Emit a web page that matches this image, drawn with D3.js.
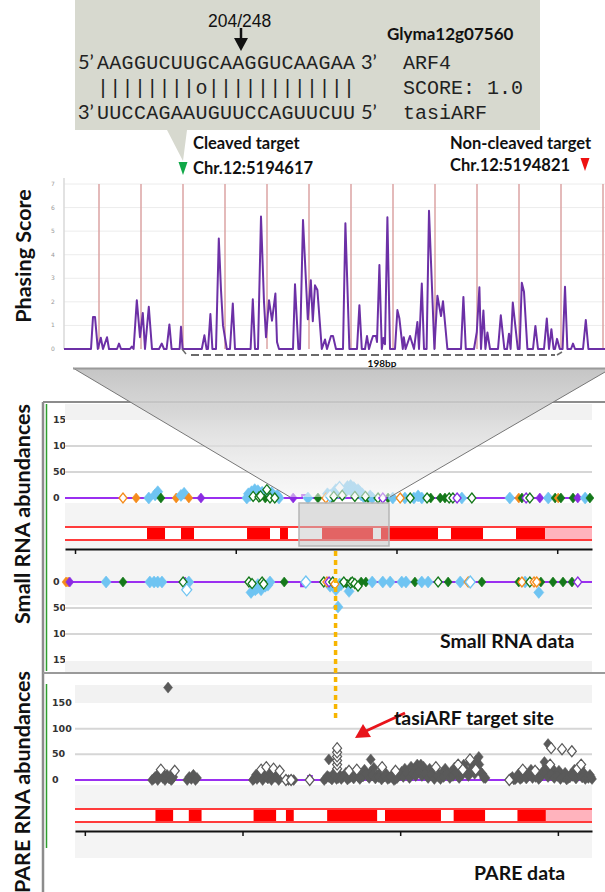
<!DOCTYPE html>
<html><head><meta charset="utf-8">
<script src="https://cdn.jsdelivr.net/npm/d3@7"></script>
<style>body{margin:0;background:#fff}svg{display:block}</style>
</head><body>
<svg id="c" width="605" height="892"></svg>
<script>
// ---------------- DATA ----------------
const targetSeq = "AAGGUCUUGCAAGGUCAAGAA";
const pairing   = "||||||||o||||||||||||";
const tasiSeq   = "UUCCAGAAUGUUCCAGUUCUU";
const cleavageLabel = "204/248";
const geneId = "Glyma12g07560";
const scoreLabel = "SCORE: 1.0";

// phasing score curve: [position (nt), phasing score]
const phaseData = [[0,0],[13.5,0],[14.5,1.36],[15.5,1.36],[16.9,0],[18.4,0.48],[19.5,0],[21.5,0.5],[22.5,0],[26.5,0],[27.5,0.23],[28.5,0],
[33,0],[33.9,0.1],[34.8,0],[36.4,2.07],[38,0.5],[39.4,1.53],[40.5,0],[42.4,1.79],[44,0],[47.5,0],[48.9,0.23],[50,0],[51.3,0],[52.7,1.04],[53.8,0],
[57.8,0],[58.5,0.94],[59.3,0],[68.9,0],[70.2,0.58],[71.3,0],[72,0],[73.2,1.48],[74.2,0],[76,0],[77.4,4.69],[78.5,2.5],[79.5,1.0],[81.4,0],
[83,0],[84.4,1.93],[85.5,0],[93.3,0],[94.4,2.11],[95.5,0],[97,0],[98.5,5.62],[100,2],[101,0.5],[102.5,2.07],[104,1.2],[105.7,2.35],[106.5,0.3],[107.5,0],
[114.5,0],[115.5,2.75],[117.2,0],[118,0],[119.5,5.47],[121.9,1.26],[123.4,2.92],[124.4,1.18],[125.5,2.7],[126.7,2.5],[128.9,0],[130.5,0.4],[131.5,0],
[133.5,0.55],[134.5,0.55],[136,0],[139.5,0],[140.7,5.33],[142.7,0],[146.5,0],[147.7,1.86],[148.9,0],[150.5,0],[151.5,0.55],[152.5,0],[153.5,0.3],
[154.5,0.55],[156,0.55],[156.5,0.3],[157.7,3.56],[158.9,0],[159.7,0.47],[160.5,0.2],[161.7,5.59],[163,0],[165.5,0],[166.7,1.65],[167.7,1.29],[169.4,0],
[169.9,0.5],[170.8,0],[173,0.55],[175,0],[176.7,1.15],[177.5,0],[178.9,2.78],[180,0],[181.3,0],[182.5,5.86],[185.2,0],[186.7,2.26],[188.5,1.4],[189.5,2.03],
[191.7,0],[198.5,0],[199.7,2.21],[200.9,0],[205,0],[206.4,0.72],[207.7,2.62],[208.5,0],[209.7,1.63],[210.7,0],[211.7,0.7],[213,0],[217,0],[218.4,1.43],
[220.2,0],[221.5,0],[222.5,0.65],[223.3,0],[224.4,1.97],[226.9,0],[227.8,0],[228.9,2.81],[230,2.43],[231.7,0],[234.5,0],[235.7,0.98],[237,0],[240,0],
[241.4,1.29],[242.5,0],[243.7,0.84],[244.8,0],[245.5,0],[246.5,0.43],[247.9,0],[249.3,0],[250.5,2.64],[251.7,0],[253.5,0],[254.5,0.23],[255.5,0],
[259.5,0],[260.9,1.23],[262.2,0],[271,0]];
const phaseRegisters = [17.5,38.5,59.5,80.5,101.5,122.5,143.5,164.5,185.5,206.5,227.5,248.5,269.5];
const phaseTicks = [0,1,2,3,4,5,6,7];
const cleavedPos = 59.5, nonCleavedPos = 260.5;
const bracketFrom = 60.5, bracketTo = 248.5, bracketLabel = "198bp";

// genome browser (position units 0..1000)
const exons = [[155.6,189.8],[220.1,244.8],[345.4,389],[408,423.1],[487.7,584.4],[599.6,707.8],[732.4,793.2],[855.8,910.8]];
const utr3 = [[910.8,1000]];
const browserTicks = [19,324,629,934];
const abundTicks = [0,50,100,150];

// small RNA, sense strand: [position, abundance, type]
const srSense = [[110,0,"oo"],[135,0,"o"],[159,0,"b"],[171,6,"b"],[176,12,"b"],[182,0,"g"],[211,0,"o"],[220,5,"b"],[226,9,"b"],[235,0,"o"],[258,0,"p"],
[345,0,"b"],[348,8,"b"],[351,5,"b"],[354,12,"b"],[357,3,"go"],[360,16,"b"],[362,9,"b"],[366,14,"b"],[368,2,"go"],[371,4,"go"],[374,11,"b"],[377,8,"b"],[380,0,"g"],
[383,16,"go"],[385,13,"b"],[389,0,"go"],[392,10,"b"],[395,6,"b"],[398,0,"go"],[400,3,"b"],[403,5,"b"],[406,0,"b"],
[433,0,"p"],[461,0,"b"],[480,0,"g"],[495,0,"oo"],[498,8,"b"],[503,4,"bo"],[506,0,"g"],[510,3,"go"],[514,16,"b"],[518,10,"b"],[521,20,"bo"],[526,5,"go"],
[529,8,"b"],[533,14,"b"],[536,22,"b"],[539,18,"b"],[542,24,"b"],[545,12,"b"],[548,20,"b"],[550,3,"go"],[553,10,"b"],[556,16,"b"],[559,12,"b"],[562,6,"b"],
[564,8,"b"],[567,2,"b"],[570,3,"go"],[575,0,"g"],[579,4,"b"],[583,0,"b"],
[594,0,"go"],[603,0,"po"],[613,0,"g"],[622,0,"b"],[636,0,"oo"],[645,0,"b"],[655,0,"go"],[662,0,"b"],[670,4,"b"],[677,0,"b"],[687,0,"go"],[694,0,"g"],
[712,0,"g"],[721,0,"g"],[729,0,"go"],[736,0,"go"],[744,0,"po"],[753,0,"b"],[772,0,"go"],
[844,0,"b"],[861,0,"o"],[867,0,"g"],[875,0,"po"],[882,0,"go"],[901,0,"p"],[917,0,"b"],[930,0,"g"],[936,0,"o"],[941,0,"g"],[964,0,"g"],[973,0,"p"],[987,0,"b"],[996,0,"g"]];
const senseLine = [[0,0],[450,0],[450,6],[457,6],[457,0],[1000,0]];

// small RNA, antisense strand
const srAnti = [[2,0,"o"],[6,0,"o"],[9,0,"p"],[78,0,"b"],[110,0,"g"],[161,0,"b"],[169,0,"b"],[176,0,"b"],[184,0,"b"],[224,0,"go"],[228,0,"p"],[230,4,"b"],[235,0,"b"],[231,15,"bo"],
[349,0,"go"],[353,20,"b"],[355,3,"go"],[359,8,"g"],[361,15,"b"],[364,12,"b"],[366,5,"b"],[370,10,"b"],[372,15,"b"],[374,0,"go"],[377,4,"go"],[380,8,"b"],[385,6,"b"],[389,0,"b"],
[416,0,"g"],[457,0,"bo"],
[491,0,"go"],[497,0,"oo"],[501,0,"po"],[503,8,"b"],[508,0,"go"],[512,4,"oo"],[514,15,"b"],[518,48,"b"],[521,4,"b"],[524,5,"b"],[529,0,"go"],[535,4,"g"],[539,18,"b"],
[542,2,"go"],[545,0,"go"],[550,3,"go"],[556,8,"go"],[562,0,"g"],[571,0,"g"],[583,0,"b"],
[603,0,"b"],[617,0,"b"],[639,0,"b"],[647,0,"b"],[664,0,"g"],[677,0,"b"],[689,0,"b"],[708,0,"go"],[727,0,"g"],[750,0,"b"],[765,0,"oo"],[769,0,"bo"],[791,0,"g"],
[861,0,"g"],[867,0,"oo"],[873,0,"b"],[882,0,"go"],[890,0,"oo"],[895,0,"oo"],[899,20,"b"],[903,0,"g"],[926,0,"g"],[945,0,"g"],[962,0,"g"],[973,0,"po"]];
const antiLine = [[0,0],[448,0],[448,8],[455,8],[455,0],[1000,0]];

// PARE: [position, abundance, open(1)/filled(0)]
const pare = [[180,180,0],
[149,0,0],[152,2,0],[155,6,0],[158,8,0],[160,0,0],[164,12,0],[166,20,1],[168,14,0],[170,4,0],[174,0,0],[176,6,0],[178,10,0],[182,3,0],[184,8,0],[186,0,0],[188,2,0],[190,6,0],[193,18,1],
[217,0,0],[221,6,0],[225,2,0],[229,10,0],[233,0,0],[236,4,0],
[344,0,0],[346,2,0],[348,5,0],[350,10,0],[352,2,0],[354,6,0],[356,12,0],[358,16,0],[360,20,1],[363,0,0],[365,12,0],[367,8,0],[370,25,1],[371,6,0],[373,3,0],
[375,18,0],[377,14,0],[380,0,0],[382,10,0],[384,22,1],[386,14,0],[387,6,0],[390,10,0],[392,4,0],[394,0,0],[396,18,1],
[408,0,1],[413,0,0],[418,0,1],[423,0,0],[454,0,1],
[482,0,0],[488,8,0],[494,4,0],[500,12,0],[506,2,0],[512,10,0],[518,6,0],[524,14,0],[530,4,0],[536,10,0],[542,16,0],[548,6,0],[554,12,0],[560,20,0],[566,8,0],
[572,16,0],[578,24,0],[584,10,0],[590,14,0],[596,6,0],[602,12,0],[608,4,0],[614,10,0],[620,2,0],[626,8,0],[632,16,0],[638,22,0],[644,12,0],[650,26,0],[656,18,0],
[662,30,0],[668,20,0],[674,26,0],[680,14,0],[686,22,0],[692,10,0],[698,18,0],[704,6,0],[710,14,0],[716,22,0],[722,10,0],[728,16,0],[734,24,0],[740,12,0],[746,20,0],
[752,30,0],[758,18,0],[764,34,0],[770,26,0],[776,38,0],[782,30,0],[788,12,0],[794,4,0],
[485,3,0],[491,6,0],[497,1,0],[503,8,0],[509,4,0],[515,2,0],[521,9,0],[527,1,0],[533,6,0],[539,3,0],[545,9,0],[551,2,0],[557,7,0],[563,12,0],[569,4,0],[575,9,0],
[581,3,0],[587,6,0],[593,1,0],[599,7,0],[605,2,0],[611,6,0],[617,0,0],[623,4,0],[629,10,0],[635,6,0],[641,14,0],[647,4,0],[653,12,0],[659,8,0],[665,16,0],[671,8,0],
[677,12,0],[683,4,0],[689,10,0],[695,2,0],[701,8,0],[707,2,0],[713,6,0],[719,12,0],[725,4,0],[731,8,0],[737,14,0],[743,4,0],[749,10,0],[755,16,0],[761,8,0],
[767,20,0],[773,12,0],[779,22,0],[785,14,0],[791,4,0],
[491,40,0],[507,22,1],[507,30,1],[507,38,1],[507,46,1],[507,54,1],[507,62,1],[530,18,1],[545,20,1],[572,40,0],[594,25,1],[620,18,1],[669,30,0],[698,25,1],
[741,30,1],[750,20,1],[764,40,1],[775,20,1],[781,45,0],
[840,0,1],[846,6,0],[852,2,0],[858,12,0],[864,4,0],[870,16,0],[876,8,0],[882,20,0],[888,10,0],[894,14,0],[900,6,0],[906,18,0],[912,28,0],[918,16,0],[924,22,0],
[930,10,0],[936,18,0],[942,8,0],[948,14,0],[954,4,0],[960,12,0],[966,20,0],[972,8,0],[978,24,0],[984,14,0],[990,6,0],[996,10,0],[1000,2,0],
[843,3,0],[849,1,0],[855,6,0],[861,2,0],[867,8,0],[873,3,0],[879,10,0],[885,4,0],[891,6,0],[897,2,0],[903,9,0],[909,12,0],[915,6,0],[921,10,0],[927,4,0],
[933,8,0],[939,2,0],[945,6,0],[951,1,0],[957,5,0],[963,8,0],[969,3,0],[975,12,0],[981,5,0],[987,2,0],[993,4,0],[998,6,0],
[866,20,1],[890,18,1],[908,35,0],[915,70,0],[919,30,1],[921,62,1],[942,60,1],[961,56,1],[972,22,1],[979,30,1]];
const pareLine = [[0,0],[451,0],[451,8],[458,8],[458,0],[1000,0]];
const targetSitePos = 504;

// ---------------- DRAWING ----------------
const svg = d3.select("#c");
const sansB = "Lato, 'Open Sans', sans-serif";
const mono = "'Liberation Mono', 'Courier New', monospace";
const tickFont = "'DejaVu Sans', Verdana, sans-serif";

const defs = svg.append("defs");
const grad = defs.append("linearGradient").attr("id","fun").attr("gradientUnits","userSpaceOnUse")
  .attr("x1",0).attr("y1",368).attr("x2",0).attr("y2",497);
grad.append("stop").attr("offset",0).attr("stop-color","#c3c3c3").attr("stop-opacity",0.97);
grad.append("stop").attr("offset",0.3).attr("stop-color","#cfcfcf").attr("stop-opacity",0.85);
grad.append("stop").attr("offset",1).attr("stop-color","#f2f2f2").attr("stop-opacity",0.55);

// ---- callout box ----
svg.append("path").attr("d","M75,0H540V130H187L183,161L167,130H75Z").attr("fill","#d7d9cf");
svg.append("text").attr("x",208).attr("y",27).attr("font-family","'Liberation Sans', Arial, sans-serif")
  .attr("font-size",17.5).attr("fill","#111").text(cleavageLabel);
svg.append("line").attr("x1",241).attr("x2",241).attr("y1",28).attr("y2",40).attr("stroke","#111").attr("stroke-width",2.5);
svg.append("path").attr("d","M234,38L248,38L241,51Z").attr("fill","#111");
svg.append("text").attr("x",387).attr("y",40).attr("font-family",sansB).attr("font-weight","bold")
  .attr("font-size",17).attr("fill","#111").text(geneId);
function seqRow(y, p5, seq, p3, tag){
  const g = svg.append("g").attr("fill","#222");
  if(p5) g.append("text").attr("x",78).attr("y",y).attr("font-family",sansB).attr("font-size",20).text(p5);
  g.append("text").attr("x",97).attr("y",y).attr("font-family",mono).attr("font-size",20).attr("textLength",258).text(seq);
  if(p3) g.append("text").attr("x",361).attr("y",y).attr("font-family",sansB).attr("font-size",20).text(p3);
  g.append("text").attr("x",403).attr("y",y).attr("font-family",mono).attr("font-size",20).text(tag);
}
seqRow(69,"5’",targetSeq,"3’","ARF4");
seqRow(94,null,pairing,null,scoreLabel);
seqRow(119,"3’",tasiSeq,"5’","tasiARF");

// ---- phasing chart ----
const xPh = d3.scaleLinear().domain([0,271]).range([64,606]);
const yPh = d3.scaleLinear().domain([0,7]).range([349,184]);
svg.append("g").selectAll("line").data(phaseTicks.filter(d=>d>0)).join("line")
  .attr("x1",64).attr("x2",605).attr("y1",d=>yPh(d)).attr("y2",d=>yPh(d)).attr("stroke","#ececec").attr("stroke-width",1);
svg.append("line").attr("x1",64).attr("x2",64).attr("y1",178).attr("y2",349).attr("stroke","#d9d9d9").attr("stroke-width",1.5);
svg.append("g").selectAll("text").data(phaseTicks).join("text")
  .attr("x",51).attr("y",d=>yPh(d)+2).attr("font-size",6).attr("font-family",tickFont).attr("fill","#999").text(d=>d);
svg.append("g").selectAll("line").data(phaseRegisters).join("line")
  .attr("x1",d=>xPh(d)).attr("x2",d=>xPh(d)).attr("y1",yPh(7)).attr("y2",yPh(0))
  .attr("stroke","#dba3a3").attr("stroke-width",1.5);
svg.append("path").datum(phaseData)
  .attr("d",d3.line().x(d=>xPh(d[0])).y(d=>yPh(d[1])))
  .attr("fill","none").attr("stroke","#6c30a6").attr("stroke-width",2).attr("stroke-linejoin","round");

// markers
const cx = xPh(cleavedPos), nx = xPh(nonCleavedPos);
svg.append("path").attr("d",`M${cx-4.5},162L${cx+4.5},162L${cx},175Z`).attr("fill","#10a848");
svg.append("path").attr("d",`M${nx-4.5},158L${nx+4.5},158L${nx},171Z`).attr("fill","#ee1111");
const lab = svg.append("g").attr("font-family",sansB).attr("font-weight","bold").attr("font-size",16.5).attr("fill","#111");
lab.append("text").attr("x",193).attr("y",149).text("Cleaved target");
lab.append("text").attr("x",193).attr("y",174).text("Chr.12:5194617");
lab.append("text").attr("x",450).attr("y",149).text("Non-cleaved target");
lab.append("text").attr("x",450).attr("y",171).text("Chr.12:5194821");

// bracket
const bx1 = xPh(bracketFrom), bx2 = xPh(bracketTo);
svg.append("line").attr("x1",bx1+6).attr("x2",bx2-6).attr("y1",355).attr("y2",355)
  .attr("stroke","#6a6a6a").attr("stroke-width",2).attr("stroke-dasharray","8,4");
svg.append("path").attr("d",`M${bx1-3},349L${bx1+1},354`).attr("stroke","#6a6a6a").attr("stroke-width",1.5).attr("fill","none");
svg.append("path").attr("d",`M${bx2-4},355L${bx2+1},352`).attr("stroke","#6a6a6a").attr("stroke-width",1.5).attr("fill","none");
svg.append("text").attr("x",(bx1+bx2)/2+9).attr("y",367).attr("text-anchor","middle").attr("font-family",sansB)
  .attr("font-weight","bold").attr("font-size",10).attr("fill","#111").text(bracketLabel);

// ---- browser frame ----
svg.append("line").attr("x1",43).attr("x2",43).attr("y1",402).attr("y2",892).attr("stroke","#8c8c8c").attr("stroke-width",2.5);
svg.append("line").attr("x1",43).attr("x2",605).attr("y1",402).attr("y2",402).attr("stroke","#8c8c8c").attr("stroke-width",2);
svg.append("line").attr("x1",43).attr("x2",605).attr("y1",673).attr("y2",673).attr("stroke","#9a9a9a").attr("stroke-width",2);
svg.append("line").attr("x1",46.5).attr("x2",46.5).attr("y1",404).attr("y2",671).attr("stroke","#2e9e2e").attr("stroke-width",1.5);
svg.append("line").attr("x1",46.5).attr("x2",46.5).attr("y1",684).attr("y2",848).attr("stroke","#2e9e2e").attr("stroke-width",1.5);

const xSR = d3.scaleLinear().domain([0,1000]).range([65,592]);
const xPA = d3.scaleLinear().domain([0,1000]).range([75,592]);
const ySense = d3.scaleLinear().domain([0,150]).range([498,420]);
const yAnti = d3.scaleLinear().domain([0,150]).range([582,660]);
const yPare = d3.scaleLinear().domain([0,150]).range([780,703]);

const typeColor = {b:"#6fc4f2",g:"#14781a",o:"#f58c1c",p:"#8a2be2"};
function diamond(w,h){return `M0,${-h}L${w},0L0,${h}L${-w},0Z`;}

function tickLabels(y, x0){
  svg.append("g").selectAll("text").data(abundTicks).join("text")
    .attr("x",x0).attr("y",d=>y(d)+3).attr("font-family",tickFont).attr("font-weight","bold")
    .attr("font-size",9.5).attr("fill","#333").text(d=>d);
}
function grid(y, x, vals){
  svg.append("g").selectAll("line").data(vals).join("line")
    .attr("x1",x.range()[0]).attr("x2",x.range()[1]).attr("y1",d=>y(d)).attr("y2",d=>y(d))
    .attr("stroke","#d6d6d6").attr("stroke-width",2);
}
function geneBar(x, yTop, yBot){
  const g = svg.append("g");
  g.append("rect").attr("x",x.range()[0]).attr("width",x.range()[1]-x.range()[0]).attr("y",yTop).attr("height",yBot-yTop).attr("fill","#fff");
  g.selectAll("rect.ex").data(exons).join("rect").attr("class","ex")
    .attr("x",d=>x(d[0])).attr("width",d=>x(d[1])-x(d[0])).attr("y",yTop).attr("height",yBot-yTop).attr("fill","#ff0000");
  g.selectAll("rect.utr").data(utr3).join("rect").attr("class","utr")
    .attr("x",d=>x(d[0])).attr("width",d=>x(d[1])-x(d[0])).attr("y",yTop).attr("height",yBot-yTop).attr("fill","#ffb3bd");
  [yTop,yBot].forEach(yy=>g.append("line").attr("x1",x.range()[0]).attr("x2",x.range()[1]).attr("y1",yy).attr("y2",yy)
    .attr("stroke","#ff3b3b").attr("stroke-width",2));
}
function axisAt(x, y){
  const g = svg.append("g").attr("transform",`translate(0,${y})`)
    .call(d3.axisBottom(x).tickValues(browserTicks).tickFormat("").tickSize(5).tickSizeOuter(0));
  g.select(".domain").attr("stroke","#111").attr("stroke-width",2);
  g.selectAll(".tick line").attr("stroke","#111").attr("stroke-width",1.5);
}
function zeroLine(x, y, data){
  svg.append("path").datum(data).attr("d",d3.line().x(d=>x(d[0])).y(d=>y(d[1])))
    .attr("fill","none").attr("stroke","#9a2ff0").attr("stroke-width",2);
}
function srPoints(x, y, data){
  const sorted = data.slice().sort((a,b)=>(a[2].length)-(b[2].length));
  svg.append("g").selectAll("path").data(sorted).join("path")
    .attr("transform",d=>`translate(${x(d[0])},${y(d[1])})`)
    .attr("d",d=>d[2][0]==="b"?diamond(5,6):diamond(4,5))
    .attr("fill",d=>d[2].length>1?"#fff":typeColor[d[2][0]])
    .attr("stroke",d=>typeColor[d[2][0]]).attr("stroke-width",d=>d[2].length>1?1.3:0.6);
}

// panel backgrounds
tickLabels(ySense,53);
tickLabels(yAnti,53);
tickLabels(yPare,52);
svg.append("rect").attr("x",65).attr("y",404).attr("width",527).attr("height",267).attr("fill","#fff");
svg.append("rect").attr("x",65).attr("y",404).attr("width",527).attr("height",16).attr("fill","#f2f2f2");
svg.append("rect").attr("x",65).attr("y",503).attr("width",527).attr("height",102).attr("fill","#f4f4f4");
svg.append("rect").attr("x",65).attr("y",661).attr("width",527).attr("height",11).attr("fill","#f2f2f2");
svg.append("rect").attr("x",75).attr("y",685).attr("width",517).attr("height",18).attr("fill","#f2f2f2");
svg.append("rect").attr("x",75).attr("y",785).attr("width",517).attr("height",73).attr("fill","#f4f4f4");

// panel 1: sense small RNA
grid(ySense,xSR,[50,100]);
geneBar(xSR,527,540);
axisAt(xSR,549);
zeroLine(xSR,ySense,senseLine);
srPoints(xSR,ySense,srSense);

// panel 2: antisense small RNA
grid(yAnti,xSR,[50,100]);
zeroLine(xSR,yAnti,antiLine);
srPoints(xSR,yAnti,srAnti);

// panel 3: PARE
grid(yPare,xPA,[50,100]);
geneBar(xPA,809,822);
axisAt(xPA,831);
zeroLine(xPA,yPare,pareLine);
const pareSorted = pare.slice().sort((a,b)=>a[2]-b[2]);
svg.append("g").selectAll("path").data(pareSorted).join("path")
  .attr("transform",d=>`translate(${xPA(d[0])},${yPare(d[1])})`)
  .attr("d",diamond(4.5,5.5))
  .attr("fill",d=>d[2]?"#fff":"#5a5a5a").attr("stroke","#5a5a5a").attr("stroke-width",d=>d[2]?1.2:0.5);

// selection rectangle
svg.append("rect").attr("x",299).attr("y",503).attr("width",90).attr("height",43)
  .attr("fill","#c8c8c8").attr("fill-opacity",0.5).attr("stroke","#b5b5b5").attr("stroke-width",1.5);

// funnel
svg.append("path").attr("d","M73,368L605,368L605,372L390,497L290,497Z").attr("fill","url(#fun)");
svg.append("path").attr("d","M73,368L290,497M605,372L390,497").attr("stroke","#777").attr("stroke-width",1).attr("fill","none");
svg.append("line").attr("x1",73).attr("x2",605).attr("y1",368.5).attr("y2",368.5).attr("stroke","#9a9a9a").attr("stroke-width",2);

// axis titles
const ax = svg.append("g").attr("font-family",sansB).attr("font-weight","bold").attr("font-size",21.5).attr("fill","#111").attr("text-anchor","middle");
ax.append("text").attr("transform","translate(31,256) rotate(-90)").text("Phasing Score");
ax.append("text").attr("transform","translate(30,514) rotate(-90)").text("Small RNA abundances");
ax.append("text").attr("transform","translate(30,782) rotate(-90)").text("PARE RNA abundances");

// target site annotation
const tx = xPA(targetSitePos);
svg.append("line").attr("x1",tx).attr("x2",tx).attr("y1",551).attr("y2",722)
  .attr("stroke","#f7b500").attr("stroke-width",3.5).attr("stroke-dasharray","5,4");
svg.append("line").attr("x1",405).attr("x2",366).attr("y1",713).attr("y2",731).attr("stroke","#e8141b").attr("stroke-width",3);
svg.append("path").attr("d","M355,738L363,724L371,737Z").attr("fill","#e8141b");
const an = svg.append("g").attr("font-family",sansB).attr("font-weight","bold").attr("font-size",19.5).attr("fill","#111");
an.append("text").attr("x",394).attr("y",725).text("tasiARF target site");
an.append("text").attr("x",440).attr("y",648).text("Small RNA data");
an.append("text").attr("x",474).attr("y",880).text("PARE data");
</script>
</body></html>
